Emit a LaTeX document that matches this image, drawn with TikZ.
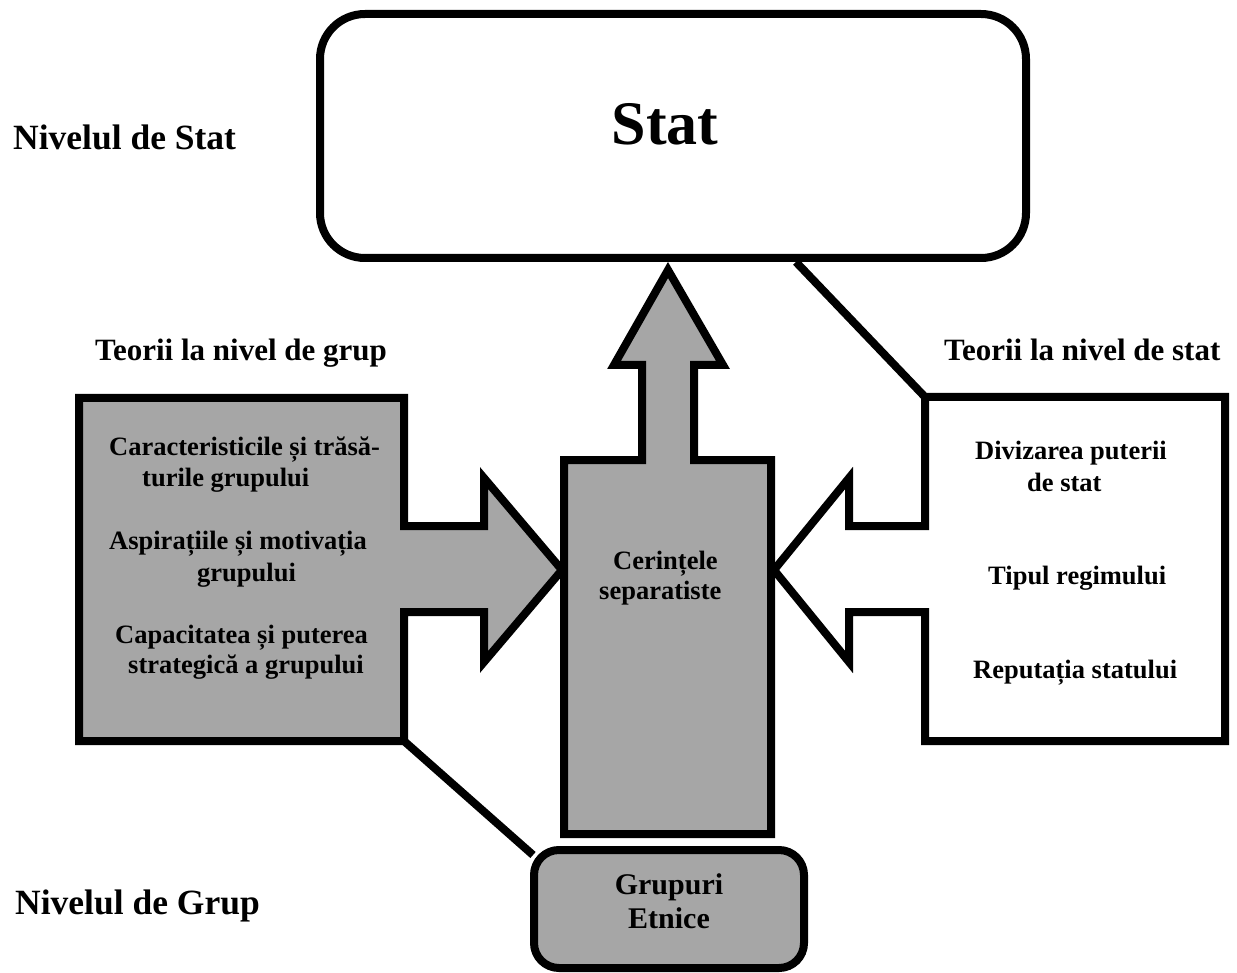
\documentclass[tikz,border=0pt]{standalone}
\usepackage{fontspec}
\setmainfont{Liberation Serif}
\usetikzlibrary{calc}
\newcommand{\fsz}[1]{\fontsize{#1}{#1}\selectfont\bfseries}
\definecolor{boxgray}{RGB}{166,166,166}
\tikzset{
  outl/.style={draw=black, line width=8pt, line join=miter},
  lbl/.style={anchor=base west, inner sep=0pt, font=\fsz{26.5}},
  head/.style={anchor=base west, inner sep=0pt, font=\fsz{31}},
  level/.style={anchor=base west, inner sep=0pt, font=\fsz{35.5}},
  conn/.style={draw=black, line width=8pt},
}
\begin{document}
\begin{tikzpicture}[x=1pt,y=-1pt]
\useasboundingbox (0,0) rectangle (1237,973);
% central column with upward arrow
\path[outl, fill=boxgray] (564,460) -- (642,460) -- (642,365) -- (614,365) -- (668,270)
  -- (723,365) -- (694,365) -- (694,460) -- (771,460) -- (771,834) -- (564,834) -- cycle;
% left group box with arrow
\path[outl, fill=boxgray] (79,398) -- (404,398) -- (404,526) -- (484,526) -- (484,478)
  -- (562,570) -- (484,662) -- (484,612) -- (404,612) -- (404,741) -- (79,741) -- cycle;
% right state box with arrow
\path[outl, fill=white] (1225,397) -- (1225,741) -- (925,741) -- (925,612) -- (849,612)
  -- (849,662) -- (774,570) -- (849,478) -- (849,526) -- (925,526) -- (925,397) -- cycle;
\coordinate (lbcorner) at (404,741);
\coordinate (rbcorner) at (925,397);
% Stat box
\node[outl, fill=white, rounded corners=45pt, minimum width=706pt, minimum height=244pt,
  inner sep=0pt, font=\fsz{62}, text depth=24pt] (stat) at (673,136) {Stat\kern16pt};
% Grupuri Etnice box
\node[outl, fill=boxgray, rounded corners=25pt, minimum width=270pt, minimum height=118pt,
  inner sep=0pt, align=center, font=\fontsize{30}{34}\selectfont\bfseries, text depth=15pt]
  (grup) at (669,909) {Grupuri\\Etnice};
% connectors
\coordinate (statfoot) at ($(stat.south west)+(480,0)$);
\draw[conn] (statfoot) -- (rbcorner);
\draw[conn] (lbcorner) -- ($(grup.north west)+(3,9)$);
% level labels
\node[level] (nstat) at (13,150) {Nivelul de Stat};
\node[level] (ngrup) at (15,914) {Nivelul de Grup};
% theory headings
\node[head] (tgrup) at (95,361) {Teorii la nivel de grup};
\node[head] (tstat) at (944,361) {Teorii la nivel de stat};
% left box texts
\node[lbl] (l1) at (109,455) {Caracteristicile și trăsă-};
\node[lbl] (l2) at (142,486) {turile grupului};
\node[lbl] (l3) at (109,549) {Aspirațiile și motivația};
\node[lbl] (l4) at (197,581) {grupului};
\node[lbl] (l5) at (115,643) {Capacitatea și puterea};
\node[lbl] (l6) at (128,673) {strategică a grupului};
% right box texts
\node[lbl] (r1) at (975,459) {Divizarea puterii};
\node[lbl] (r2) at (1027,491) {de stat};
\node[lbl] (r3) at (988,584) {Tipul regimului};
\node[lbl] (r4) at (973,678) {Reputația statului};
% central texts
\node[lbl] (c1) at (613,569) {Cerințele};
\node[lbl] (c2) at (599,599) {separatiste};
\end{tikzpicture}
\end{document}
